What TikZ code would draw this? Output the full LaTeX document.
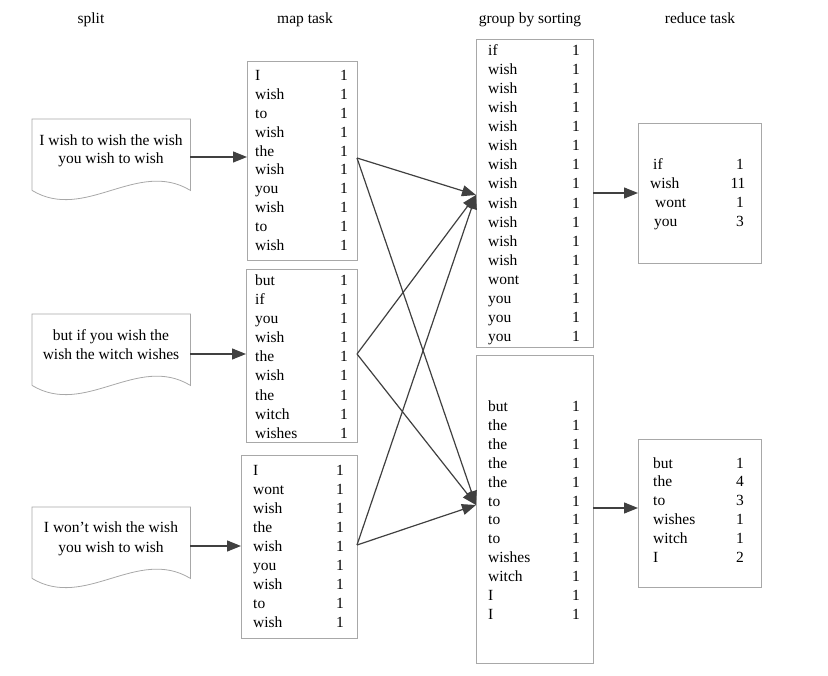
\documentclass[tikz,border=0pt]{standalone}
\usepackage{fontspec}
\setmainfont{Liberation Serif}
\usetikzlibrary{arrows.meta}
\definecolor{boxgray}{HTML}{A8A8A8}
\definecolor{linegray}{HTML}{404040}
\begin{document}
\begin{tikzpicture}[x=1pt,y=-1pt,
  every node/.style={font=\fontsize{15.5}{19}\selectfont},
  box/.style={draw=boxgray,line width=0.8pt,rectangle,inner sep=0pt,anchor=north west},
  docnode/.style={rectangle,inner sep=0pt,anchor=north west,minimum width=158pt,minimum height=71pt},
  docline/.style={draw=boxgray,line width=0.8pt},
  wd/.style={anchor=base west,inner sep=0pt},
  nm/.style={anchor=base,inner sep=0pt},
  ctext/.style={anchor=base,inner sep=0pt},
  arr/.style={draw=linegray,line width=1.2pt,-{Triangle[length=14pt,width=11pt]}}]
\useasboundingbox (0,0) rectangle (828,676);

% headers
\node[ctext] (h1) at (91,24) {split};
\node[ctext] (h2) at (305,24) {map task};
\node[ctext] (h3) at (530,24) {group by sorting};
\node[ctext] (h4) at (700,24) {reduce task};

% documents
\node[docnode] (doc1) at (32,119) {};
\node[docnode] (doc2) at (32,314) {};
\node[docnode] (doc3) at (32,507) {};
\foreach \d in {doc1,doc2,doc3}{
  \draw[docline] (\d.south west) -- (\d.north west) -- (\d.north east) -- (\d.south east)
    .. controls +(-53,-32) and +(53,32) .. (\d.south west);
}
\node[ctext] (d1a) at (111,146) {I wish to wish the wish};
\node[ctext] (d1b) at (111,164) {you wish to wish};
\node[ctext] (d2a) at (111,341) {but if you wish the};
\node[ctext] (d2b) at (111,360) {wish the witch wishes};
\node[ctext] (d3a) at (111,532) {I won't wish the wish};
\node[ctext] (d3b) at (111,552) {you wish to wish};

% map boxes
\node[box,minimum width=110pt,minimum height=199pt] (m1) at (247,61) {};
\node[box,minimum width=111pt,minimum height=173pt] (m2) at (246,269) {};
\node[box,minimum width=116pt,minimum height=183pt] (m3) at (241,455) {};
\foreach \w [count=\i] in {I,wish,to,wish,the,wish,you,wish,to,wish}{
  \node[wd] (m1w\i) at (255,{80.5+18.9*(\i-1)}) {\w};
  \node[nm] (m1n\i) at (344,{80.5+18.9*(\i-1)}) {1};
}
\foreach \w [count=\i] in {but,if,you,wish,the,wish,the,witch,wishes}{
  \node[wd] (m2w\i) at (255,{285.5+19.1*(\i-1)}) {\w};
  \node[nm] (m2n\i) at (344,{285.5+19.1*(\i-1)}) {1};
}
\foreach \w [count=\i] in {I,wont,wish,the,wish,you,wish,to,wish}{
  \node[wd] (m3w\i) at (253,{475.5+19*(\i-1)}) {\w};
  \node[nm] (m3n\i) at (340,{475.5+19*(\i-1)}) {1};
}

% group boxes
\node[box,minimum width=117pt,minimum height=308pt] (g1) at (476,39) {};
\node[box,minimum width=117pt,minimum height=308pt] (g2) at (476,355) {};
\foreach \w [count=\i] in {if,wish,wish,wish,wish,wish,wish,wish,wish,wish,wish,wish,wont,you,you,you}{
  \node[wd] (g1w\i) at (488,{55.5+19.07*(\i-1)}) {\w};
  \node[nm] (g1n\i) at (576,{55.5+19.07*(\i-1)}) {1};
}
\foreach \w [count=\i] in {but,the,the,the,the,to,to,to,wishes,witch,I,I}{
  \node[wd] (g2w\i) at (488,{411.5+18.9*(\i-1)}) {\w};
  \node[nm] (g2n\i) at (576,{411.5+18.9*(\i-1)}) {1};
}

% reduce boxes
\node[box,minimum width=123pt,minimum height=140pt] (r1) at (638,123) {};
\node[box,minimum width=123pt,minimum height=148pt] (r2) at (638,439) {};
\node[wd] (r1w1) at (653,170) {if};   \node[nm] (r1n1) at (740,170) {1};
\node[wd] (r1w2) at (650,189) {wish}; \node[nm] (r1n2) at (738,189) {11};
\node[wd] (r1w3) at (655,208) {wont}; \node[nm] (r1n3) at (740,208) {1};
\node[wd] (r1w4) at (654,227) {you};  \node[nm] (r1n4) at (740,227) {3};
\foreach \w/\n [count=\i] in {but/1,the/4,to/3,wishes/1,witch/1,I/2}{
  \node[wd] (r2w\i) at (653,{468+18.8*(\i-1)}) {\w};
  \node[nm] (r2n\i) at (740,{468+18.8*(\i-1)}) {\n};
}

% split -> map
\coordinate (a1) at (190,157);
\coordinate (a2) at (190,354);
\coordinate (a3) at (190,546);
\draw[arr] (a1) -- (a1 -| m1.west);
\draw[arr] (a2) -- (a2 -| m2.west);
\draw[arr] (a3) -- (a3 -| m3.west);

% map -> group
\coordinate (s1) at (357,158);
\coordinate (s2) at (357,354);
\coordinate (s3) at (357,545);
\coordinate (t1) at (476,195);
\coordinate (t2) at (476,505);
\draw[arr] (s1) -- (t1);
\draw[arr] (s1) -- (t2);
\draw[arr] (s2) -- (t1);
\draw[arr] (s2) -- (t2);
\draw[arr] (s3) -- (t1);
\draw[arr] (s3) -- (t2);

% group -> reduce
\coordinate (b1) at (593,193);
\coordinate (b2) at (593,508);
\draw[arr] (b1) -- (b1 -| r1.west);
\draw[arr] (b2) -- (b2 -| r2.west);
\end{tikzpicture}
\end{document}
